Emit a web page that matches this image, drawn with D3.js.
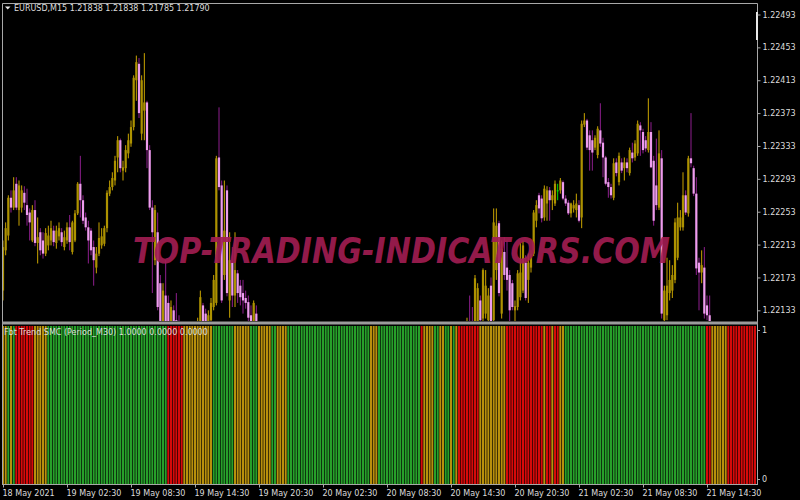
<!DOCTYPE html>
<html>
<head>
<meta charset="utf-8">
<script src="https://cdn.jsdelivr.net/npm/d3@7"></script>
<style>
  body { margin: 0; background: #000; }
  svg { display: block; }
  text { font-family: 'DejaVu Sans', sans-serif; }
</style>
</head>
<body>
<svg id="chart" width="800" height="500"></svg>
<script>
// EURUSD M15 bars, 18 May 20:30 .. 21 May 19:00
var open = [
  1.22157,1.22206,1.22224,1.22270,1.22258,1.22287,1.22255,1.22258,1.22276,1.22261,
  1.22252,1.22218,1.22255,1.22215,1.22228,1.22218,1.22202,1.22212,1.22218,1.22230,
  1.22215,1.22223,1.22228,1.22210,1.22218,1.22234,1.22204,1.22218,1.22251,1.22287,
  1.22267,1.22246,1.22234,1.22230,1.22210,1.22185,1.22202,1.22212,1.22214,1.22233,
  1.22275,1.22283,1.22291,1.22319,1.22340,1.22303,1.22306,1.22324,1.22336,1.22356,
  1.22413,1.22433,1.22348,1.22376,1.22386,1.22328,1.22258,1.22194,1.22228,1.22166,
  1.22109,1.22151,1.22142,1.22109,1.22133,1.22121,1.22109,1.22072,1.22090,1.22072,
  1.22050,1.22075,1.22097,1.22090,1.22109,1.22139,1.22129,1.22103,1.22121,1.22137,
  1.22142,1.22319,1.22285,1.22176,1.22279,1.22145,1.22191,1.22151,1.22178,1.22163,
  1.22154,1.22148,1.22143,1.22127,1.22109,1.22129,
  1.22103,1.22085,1.22074,1.22078,1.22086,1.22068,1.22050,1.22058,1.22042,1.22046,
  1.22055,1.22066,1.22062,1.22052,1.22057,1.22072,1.22080,1.22077,1.22068,1.22073,
  1.22085,1.22094,1.22090,1.22082,1.22088,1.22096,1.22092,1.22079,1.22072,1.22076,
  1.22087,1.22081,1.22070,1.22064,1.22069,1.22080,1.22089,1.22097,1.22090,1.22078,
  1.22067,1.22058,1.22062,1.22071,1.22064,1.22054,1.22046,1.22052,1.22063,1.22058,
  1.22049,1.22055,1.22067,1.22075,1.22070,1.22062,1.22066,1.22077,1.22086,1.22080,
  1.22073,1.22078,1.22089,1.22095,1.22088,1.22079,1.22070,1.22061,1.22066,1.22076,
  1.22072,1.22065,1.22071,1.22083,1.22090,1.22086,1.22082,1.22093,
  1.22097,1.22114,1.22111,1.22109,1.22118,1.22145,1.22123,1.22129,1.22121,1.22163,
  1.22121,1.22182,1.22239,1.22129,1.22204,1.22185,1.22176,1.22166,1.22133,1.22137,
  1.22149,1.22157,1.22191,1.22170,1.22185,1.22202,1.22242,1.22273,1.22269,1.22246,
  1.22263,1.22279,1.22267,1.22263,1.22279,1.22279,1.22289,1.22269,1.22264,1.22251,
  1.22257,1.22255,1.22261,1.22246,1.22359,1.22364,1.22346,1.22340,1.22331,1.22322,
  1.22352,1.22337,1.22319,1.22289,1.22283,1.22270,1.22313,1.22289,1.22313,1.22306,
  1.22313,1.22300,1.22325,1.22319,1.22324,1.22358,1.22350,1.22340,1.22328,1.22350,
  1.22315,1.22285,1.22258,1.22318,1.22121,1.22127,1.22154,1.22157,1.22170,1.22197,
  1.22234,1.22234,1.22273,1.22251,1.22318,1.22306,1.22275,1.22191,1.22179,1.22185,
  1.22139,1.22127,
  1.22109,1.22086,1.22066,1.22040,1.22048,1.22014,1.21992,1.22004,1.21970,1.21958,
  1.21968,1.21930,1.21905,1.21915,1.21876,1.21852,1.21838
];
var high = [
  1.22218,1.22240,1.22273,1.22279,1.22295,1.22295,1.22291,1.22285,1.22284,1.22281,
  1.22257,1.22261,1.22267,1.22246,1.22233,1.22228,1.22233,1.22236,1.22242,1.22236,
  1.22236,1.22240,1.22233,1.22230,1.22240,1.22249,1.22242,1.22255,1.22289,1.22321,
  1.22273,1.22252,1.22242,1.22233,1.22218,1.22210,1.22240,1.22233,1.22236,1.22279,
  1.22291,1.22301,1.22321,1.22345,1.22342,1.22315,1.22334,1.22348,1.22364,1.22419,
  1.22443,1.22440,1.22419,1.22446,1.22388,1.22334,1.22267,1.22261,1.22252,1.22176,
  1.22166,1.22194,1.22151,1.22145,1.22139,1.22154,1.22127,1.22109,1.22103,1.22084,
  1.22090,1.22109,1.22111,1.22124,1.22157,1.22142,1.22135,1.22133,1.22148,1.22176,
  1.22321,1.22380,1.22291,1.22291,1.22285,1.22228,1.22210,1.22228,1.22182,1.22170,
  1.22170,1.22157,1.22151,1.22139,1.22145,1.22139,
  1.22108,1.22092,1.22082,1.22090,1.22095,1.22072,1.22062,1.22064,1.22050,1.22058,
  1.22070,1.22078,1.22068,1.22060,1.22075,1.22086,1.22092,1.22084,1.22076,1.22088,
  1.22098,1.22104,1.22096,1.22091,1.22100,1.22106,1.22098,1.22086,1.22080,1.22090,
  1.22095,1.22086,1.22078,1.22072,1.22083,1.22092,1.22101,1.22105,1.22095,1.22085,
  1.22074,1.22066,1.22074,1.22079,1.22070,1.22062,1.22055,1.22066,1.22072,1.22064,
  1.22058,1.22070,1.22079,1.22084,1.22076,1.22069,1.22080,1.22090,1.22094,1.22087,
  1.22082,1.22092,1.22100,1.22104,1.22094,1.22086,1.22077,1.22070,1.22080,1.22086,
  1.22078,1.22074,1.22086,1.22095,1.22102,1.22094,1.22096,1.22105,
  1.22124,1.22151,1.22137,1.22176,1.22166,1.22151,1.22184,1.22182,1.22160,1.22173,
  1.22257,1.22257,1.22242,1.22218,1.22222,1.22218,1.22182,1.22170,1.22145,1.22182,
  1.22215,1.22218,1.22200,1.22202,1.22206,1.22255,1.22267,1.22276,1.22273,1.22285,
  1.22284,1.22283,1.22279,1.22291,1.22287,1.22294,1.22291,1.22273,1.22267,1.22264,
  1.22267,1.22275,1.22267,1.22364,1.22373,1.22366,1.22352,1.22352,1.22346,1.22357,
  1.22385,1.22343,1.22321,1.22294,1.22287,1.22318,1.22318,1.22325,1.22318,1.22319,
  1.22318,1.22331,1.22337,1.22340,1.22364,1.22362,1.22354,1.22345,1.22391,1.22362,
  1.22321,1.22342,1.22352,1.22328,1.22163,1.22197,1.22194,1.22188,1.22245,1.22264,
  1.22255,1.22301,1.22279,1.22321,1.22373,1.22309,1.22295,1.22197,1.22206,1.22210,
  1.22151,1.22151,
  1.22115,1.22094,1.22072,1.22052,1.22055,1.22020,1.22008,1.22010,1.21982,1.21975,
  1.21972,1.21940,1.21922,1.21920,1.21885,1.21860,1.21838
];
var low = [
  1.22145,1.22200,1.22218,1.22252,1.22255,1.22255,1.22236,1.22252,1.22255,1.22236,
  1.22218,1.22216,1.22211,1.22190,1.22200,1.22196,1.22199,1.22206,1.22212,1.22211,
  1.22208,1.22218,1.22211,1.22206,1.22214,1.22206,1.22201,1.22216,1.22249,1.22246,
  1.22238,1.22230,1.22190,1.22200,1.22163,1.22178,1.22199,1.22208,1.22211,1.22228,
  1.22272,1.22279,1.22285,1.22301,1.22301,1.22291,1.22301,1.22318,1.22332,1.22352,
  1.22388,1.22367,1.22340,1.22340,1.22306,1.22255,1.22154,1.22188,1.22133,1.22097,
  1.22097,1.22090,1.22084,1.22097,1.22084,1.22078,1.22066,1.22060,1.22054,1.22042,
  1.22045,1.22066,1.22072,1.22084,1.22103,1.22097,1.22090,1.22097,1.22109,1.22133,
  1.22139,1.22279,1.22142,1.22170,1.22150,1.22124,1.22137,1.22137,1.22142,1.22139,
  1.22129,1.22135,1.22118,1.22097,1.22103,1.22097,
  1.22080,1.22070,1.22060,1.22072,1.22066,1.22045,1.22044,1.22038,1.22030,1.22040,
  1.22050,1.22060,1.22048,1.22044,1.22054,1.22068,1.22074,1.22064,1.22060,1.22070,
  1.22080,1.22086,1.22078,1.22075,1.22084,1.22088,1.22076,1.22068,1.22062,1.22072,
  1.22078,1.22066,1.22058,1.22054,1.22065,1.22075,1.22084,1.22086,1.22074,1.22064,
  1.22052,1.22048,1.22058,1.22060,1.22050,1.22040,1.22036,1.22048,1.22055,1.22044,
  1.22040,1.22052,1.22062,1.22066,1.22058,1.22050,1.22062,1.22072,1.22076,1.22068,
  1.22066,1.22075,1.22083,1.22084,1.22074,1.22064,1.22056,1.22052,1.22062,1.22068,
  1.22060,1.22058,1.22068,1.22078,1.22084,1.22076,1.22078,1.22088,
  1.22090,1.22090,1.22084,1.22103,1.22114,1.22109,1.22115,1.22123,1.22114,1.22114,
  1.22118,1.22170,1.22150,1.22123,1.22170,1.22157,1.22117,1.22133,1.22118,1.22133,
  1.22145,1.22154,1.22145,1.22142,1.22179,1.22199,1.22234,1.22251,1.22240,1.22242,
  1.22242,1.22242,1.22255,1.22260,1.22267,1.22275,1.22267,1.22260,1.22249,1.22246,
  1.22252,1.22246,1.22240,1.22233,1.22356,1.22328,1.22303,1.22303,1.22328,1.22318,
  1.22332,1.22295,1.22285,1.22270,1.22269,1.22267,1.22296,1.22285,1.22300,1.22291,
  1.22301,1.22297,1.22313,1.22315,1.22321,1.22321,1.22324,1.22326,1.22325,1.22306,
  1.22236,1.22255,1.22255,1.22123,1.22117,1.22121,1.22145,1.22148,1.22166,1.22194,
  1.22230,1.22230,1.22249,1.22247,1.22307,1.22272,1.22176,1.22133,1.22166,1.22123,
  1.22121,1.22103,
  1.22080,1.22060,1.22035,1.22028,1.22010,1.21985,1.21980,1.21965,1.21950,1.21945,
  1.21925,1.21898,1.21890,1.21870,1.21840,1.21830,1.21785
];
var close = [
  1.22210,1.22233,1.22270,1.22258,1.22279,1.22258,1.22285,1.22279,1.22264,1.22249,
  1.22240,1.22255,1.22215,1.22222,1.22206,1.22202,1.22227,1.22224,1.22233,1.22216,
  1.22230,1.22233,1.22216,1.22222,1.22234,1.22216,1.22240,1.22251,1.22287,1.22267,
  1.22242,1.22234,1.22218,1.22206,1.22194,1.22202,1.22221,1.22223,1.22233,1.22276,
  1.22283,1.22294,1.22315,1.22340,1.22306,1.22307,1.22328,1.22340,1.22356,1.22416,
  1.22435,1.22373,1.22413,1.22386,1.22328,1.22258,1.22228,1.22255,1.22137,1.22109,
  1.22157,1.22109,1.22103,1.22137,1.22097,1.22090,1.22072,1.22097,1.22060,1.22048,
  1.22078,1.22097,1.22082,1.22115,1.22149,1.22109,1.22103,1.22127,1.22142,1.22170,
  1.22318,1.22283,1.22145,1.22230,1.22154,1.22194,1.22151,1.22182,1.22154,1.22149,
  1.22145,1.22142,1.22124,1.22109,1.22142,1.22103,
  1.22085,1.22074,1.22078,1.22086,1.22068,1.22050,1.22058,1.22042,1.22046,1.22055,
  1.22066,1.22062,1.22052,1.22057,1.22072,1.22080,1.22077,1.22068,1.22073,1.22085,
  1.22094,1.22090,1.22082,1.22088,1.22096,1.22092,1.22079,1.22072,1.22076,1.22087,
  1.22081,1.22070,1.22064,1.22069,1.22080,1.22089,1.22097,1.22090,1.22078,1.22067,
  1.22058,1.22062,1.22071,1.22064,1.22054,1.22046,1.22052,1.22063,1.22058,1.22049,
  1.22055,1.22067,1.22075,1.22070,1.22062,1.22066,1.22077,1.22086,1.22080,1.22073,
  1.22078,1.22089,1.22095,1.22088,1.22079,1.22070,1.22061,1.22066,1.22076,1.22072,
  1.22065,1.22071,1.22083,1.22090,1.22086,1.22082,1.22093,1.22100,
  1.22115,1.22097,1.22090,1.22172,1.22160,1.22121,1.22182,1.22163,1.22151,1.22118,
  1.22240,1.22236,1.22154,1.22208,1.22176,1.22170,1.22133,1.22137,1.22138,1.22178,
  1.22179,1.22212,1.22148,1.22191,1.22202,1.22252,1.22261,1.22257,1.22245,1.22281,
  1.22279,1.22267,1.22273,1.22287,1.22279,1.22291,1.22269,1.22263,1.22251,1.22263,
  1.22261,1.22263,1.22242,1.22360,1.22364,1.22331,1.22328,1.22325,1.22343,1.22354,
  1.22336,1.22319,1.22287,1.22283,1.22273,1.22312,1.22300,1.22321,1.22303,1.22313,
  1.22306,1.22328,1.22318,1.22336,1.22360,1.22352,1.22328,1.22330,1.22350,1.22307,
  1.22242,1.22261,1.22324,1.22129,1.22157,1.22163,1.22170,1.22176,1.22240,1.22246,
  1.22246,1.22273,1.22252,1.22318,1.22312,1.22275,1.22184,1.22179,1.22188,1.22129,
  1.22127,1.22109,
  1.22086,1.22066,1.22040,1.22048,1.22014,1.21992,1.22004,1.21970,1.21958,1.21968,
  1.21930,1.21905,1.21915,1.21876,1.21852,1.21838,1.21790
];

// Fbt Trend SMC state per bar, run-length: g = up, r = down, o = flat
var trendRuns = [
  ['o',2],['g',1],['o',1],['g',1],['r',7],['o',5],['g',45],['r',6],['o',11],['g',8],
  ['o',6],['g',3],['o',5],['g',2],['o',4],['g',31],['o',3],['g',16],['r',1],['o',4],
  ['g',2],['o',2],['g',2],['o',1],['g',1],['o',1],['r',8],['o',10],['r',14],['o',1],
  ['r',2],['o',1],['r',2],['o',2],['g',53],['r',2],['o',6],['r',11]
];

var priceTicks = [1.22493,1.22453,1.22413,1.22373,1.22333,1.22293,1.22253,1.22213,1.22173,1.22133];
var timeTickBars = [0,24,48,72,96,120,144,168,192,216,240,264];
var timeLabels = ['18 May 2021','19 May 02:30','19 May 08:30','19 May 14:30','19 May 20:30',
  '20 May 02:30','20 May 08:30','20 May 14:30','20 May 20:30','21 May 02:30','21 May 08:30','21 May 14:30'];

var trendColor = { g: '#27a02a', r: '#d60a0a', o: '#b8900c' };

var trend = [];
trendRuns.forEach(function(r) { for (var k = 0; k < r[1]; k++) trend.push(r[0]); });

var bars = close.map(function(c, i) {
  return { i: i, o: open[i], h: high[i], l: low[i], c: c, t: trend[i] };
});

var svg = d3.select('#chart');
var LEFT = 2, RIGHT = 757, PRICE_TOP = 3, PRICE_BOTTOM = 321, SUB_TOP = 325, SUB_BOTTOM = 484;

var x = d3.scaleLinear().domain([0, bars.length - 1]).range([3, 755]);
var y = d3.scaleLinear().domain([1.22120, 1.22507]).range([PRICE_BOTTOM, PRICE_TOP]);
var ySub = d3.scaleLinear().domain([0, 1]).range([SUB_BOTTOM, SUB_TOP + 1]);

svg.append('rect').attr('width', 800).attr('height', 500).attr('fill', '#000');

var defs = svg.append('defs');
defs.append('clipPath').attr('id', 'priceClip').append('rect')
  .attr('x', LEFT + 1).attr('y', PRICE_TOP + 1)
  .attr('width', RIGHT - LEFT - 1).attr('height', PRICE_BOTTOM - PRICE_TOP - 1);

// Histogram subwindow
svg.append('g').selectAll('rect')
  .data(bars)
  .enter().append('rect')
  .attr('x', function(d) { return x(d.i) - 1; })
  .attr('width', 2)
  .attr('y', ySub(1))
  .attr('height', ySub(0) - ySub(1))
  .attr('fill', function(d) { return trendColor[d.t]; });

// Candles
var candles = svg.append('g').attr('clip-path', 'url(#priceClip)');
var candle = candles.selectAll('g.candle')
  .data(bars)
  .enter().append('g')
  .attr('class', 'candle');

function wickColor(d) {
  if (d.c === d.o) return '#00e000';
  return d.c > d.o ? '#c9a400' : '#8e1e8e';
}
function bodyColor(d) {
  if (d.c === d.o) return '#00e000';
  return d.c > d.o ? '#ad9200' : '#ee9cee';
}

candle.append('rect')
  .attr('x', function(d) { return x(d.i) - 0.5; })
  .attr('width', 1)
  .attr('y', function(d) { return y(d.h); })
  .attr('height', function(d) { return Math.max(1, y(d.l) - y(d.h)); })
  .attr('fill', wickColor);

candle.append('rect')
  .attr('x', function(d) { return x(d.i) - 1.1; })
  .attr('width', 2.2)
  .attr('y', function(d) { return y(Math.max(d.o, d.c)); })
  .attr('height', function(d) { return Math.max(1, Math.abs(y(d.o) - y(d.c))); })
  .attr('fill', bodyColor);

// Watermark, squeezed horizontally to its span in the screenshot
var mark = svg.append('text')
  .style('font-size', '36px').style('font-weight', 'bold').style('font-style', 'italic')
  .attr('fill', '#a31d52').attr('fill-opacity', 0.92)
  .text('TOP-TRADING-INDICATORS.COM');
var markWidth = mark.node().getComputedTextLength();
mark.attr('transform', 'translate(133,263) scale(' + (537 / markWidth) + ',1)');

// Frame
var frame = svg.append('g').attr('fill', 'none').attr('stroke', '#a8a8a8');
frame.append('path').attr('d', 'M' + (LEFT + 0.5) + ',' + SUB_BOTTOM + 'V' + (PRICE_TOP + 0.5) + 'H' + (RIGHT + 0.5) + 'V' + SUB_BOTTOM);
frame.append('line').attr('x1', LEFT).attr('x2', RIGHT + 1).attr('y1', SUB_BOTTOM + 0.5).attr('y2', SUB_BOTTOM + 0.5);
svg.append('rect').attr('x', LEFT).attr('y', PRICE_BOTTOM + 0.5).attr('width', RIGHT - LEFT + 1).attr('height', 3)
  .attr('fill', '#9c9c9c');
svg.append('rect').attr('x', 756).attr('y', 12).attr('width', 2).attr('height', 28).attr('fill', '#e8e8e8');

// Price axis
var priceAxis = svg.append('g')
  .attr('transform', 'translate(' + (RIGHT + 0.5) + ',0)')
  .call(d3.axisRight(y).tickValues(priceTicks).tickSize(3).tickPadding(2).tickFormat(d3.format('.5f')));
priceAxis.select('.domain').remove();
priceAxis.selectAll('line').attr('stroke', '#a8a8a8');
priceAxis.selectAll('text').attr('fill', '#dcdcdc').style('font-size', '8px').attr('font-family', null);

// Subwindow scale
var subLabels = svg.append('g');
[[1, 4], [0, -5]].forEach(function(s) {
  subLabels.append('line')
    .attr('x1', RIGHT).attr('x2', RIGHT + 3)
    .attr('y1', ySub(s[0]) + s[1] + 0.5).attr('y2', ySub(s[0]) + s[1] + 0.5)
    .attr('stroke', '#a8a8a8');
  subLabels.append('text')
    .attr('x', RIGHT + 5).attr('y', ySub(s[0]) + s[1] + 3)
    .attr('fill', '#dcdcdc').style('font-size', '8px')
    .text(s[0]);
});

// Time axis
var timeAxis = svg.append('g')
  .attr('transform', 'translate(0,' + (SUB_BOTTOM + 0.5) + ')')
  .call(d3.axisBottom(x).tickValues(timeTickBars).tickSize(3).tickPadding(3)
    .tickFormat(function(d, k) { return timeLabels[k]; }));
timeAxis.select('.domain').remove();
timeAxis.selectAll('line').attr('stroke', '#a8a8a8');
timeAxis.selectAll('text')
  .attr('text-anchor', 'start').attr('x', -1)
  .attr('fill', '#dcdcdc').style('font-size', '8px').attr('font-family', null);

// Window titles
svg.append('path').attr('d', 'M5,6.5H10.5L7.75,9.5Z').attr('fill', '#e8e8e8');
svg.append('text').attr('x', 14).attr('y', 11)
  .attr('fill', '#dcdcdc').style('font-size', '8px')
  .text('EURUSD,M15  1.21838 1.21838 1.21785 1.21790');
svg.append('text').attr('x', 4).attr('y', 335)
  .attr('fill', '#dcdcdc').style('font-size', '8px')
  .text('Fbt Trend SMC (Period_M30) 1.0000 0.0000 0.0000');
</script>
</body>
</html>
